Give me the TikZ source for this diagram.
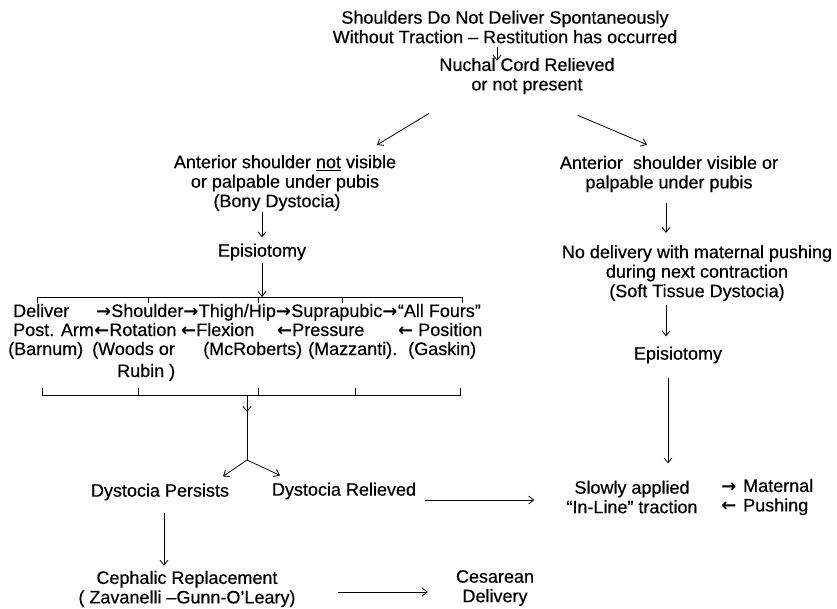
\documentclass[tikz,border=0pt]{standalone}
\usepackage{fontspec}
\setmainfont{Liberation Sans}[UprightFeatures={FakeBold=0.4}]
\newfontfamily\arwfont{DejaVu Sans}
\newcommand{\myra}{{\arwfont\bfseries →}}
\newcommand{\myla}{{\arwfont\bfseries ←}}
\usetikzlibrary{arrows.meta}
\begin{document}
\begin{tikzpicture}[x=1pt,y=-1pt,
  txt/.style={inner sep=0pt, font=\fontsize{18}{19.5}\selectfont, align=center},
  lt/.style={inner sep=0pt, font=\fontsize{18}{19.5}\selectfont, anchor=base west},
  arr/.style={-{Straight Barb[length=5pt,width=8pt]}, line width=0.8pt},
  ln/.style={line width=0.8pt}]
\useasboundingbox (0,0) rectangle (837,609);

% top
\node[txt] (t1) at (505,27) {Shoulders Do Not Deliver Spontaneously\\Without Traction -- Restitution has occurred};
\node[txt] (n1) at (527,76) {Nuchal Cord Relieved\\or not present};
\node[txt] (L1) at (285,183) {Anterior shoulder \underline{not} visible\\or palpable under pubis\\(Bony Dystocia)\hspace*{16pt}};
\node[txt] (R1) at (669,174) {Anterior\ \ shoulder visible or\\palpable under pubis};
\node[txt] (R2) at (697,273) {No delivery with maternal pushing\\during next contraction\\(Soft Tissue Dystocia)};
\node[txt] (epL) at (262,252) {Episiotomy};
\node[txt] (epR) at (678,355) {Episiotomy};

% manoeuvre rows
\node[lt] (r1a) at (13,317) {Deliver};
\node[lt] (r1b) at (96,317) {\myra Shoulder\myra};
\node[lt] (r1c) at (r1b.base east) {Thigh/Hip\myra};
\node[lt] (r1d) at (r1c.base east) {Suprapubic\myra};
\node[lt] (r1e) at (r1d.base east) {“All Fours”};
\node[lt] (r2a) at (13,336) {Post. Arm};
\node[lt] (r2b) at (r2a.base east) {\myla Rotation};
\node[lt] (r2c) at (181,336) {\myla Flexion};
\node[lt] (r2d) at (277,336) {\myla Pressure};
\node[lt] (r2e) at (398,336) {\myla\ Position};
\node[lt] (r3a) at (8,355) {(Barnum)};
\node[lt] (r3b) at (92,355) {(Woods or};
\node[lt] (r3c) at (203,355) {(McRoberts)};
\node[lt] (r3d) at (308,355) {(Mazzanti).};
\node[lt] (r3e) at (408,355) {(Gaskin)};
\node[lt] (r4b) at (117,377) {Rubin )};

% brackets
\coordinate (brT) at (262,297);
\draw[ln] (37,303) -- (37,297) -- (462,297) -- (462,303);
\foreach \x in {148,258,342} \draw[ln] (\x,297) -- (\x,303);
\coordinate (brB) at (247,395);
\coordinate (split) at (247,460);
\draw[ln] (42,388) -- (42,395) -- (460,395) -- (460,388);
\foreach \x in {138,258,355} \draw[ln] (\x,395) -- (\x,388);

% lower nodes
\node[txt] (pers) at (160,492) {Dystocia Persists};
\node[txt] (rel) at (344,491) {Dystocia Relieved};
\node[txt] (slow) at (632,497) {Slowly applied\\“In-Line” traction};
\node[txt] (arrs) at (729,497) {\myra\\\myla};
\node[txt,align=left,anchor=west] (mat) at (743,497) {Maternal\\Pushing};
\node[txt] (ceph) at (187,589) {Cephalic Replacement\\( Zavanelli --Gunn-O'Leary)};
\node[txt] (ces) at (495,588) {Cesarean\\Delivery};

% connectors
\draw[arr] ([xshift=-8pt,yshift=-3pt]t1.south) -- ([xshift=-30pt,yshift=-3pt]n1.north);
\draw[arr] ([xshift=-10pt,yshift=-19pt]n1.south west) -- ([xshift=92pt,yshift=10pt]L1.north);
\draw[arr] ([xshift=-37pt,yshift=-21pt]n1.south east) -- ([xshift=-22pt,yshift=11pt]R1.north);
\draw[arr] ([xshift=-23pt,yshift=-1pt]L1.south) -- ([yshift=6pt]epL.north);
\draw[arr] ([yshift=-2pt]epL.south) -- (brT);
\draw[arr] ([xshift=-3pt,yshift=-11pt]R1.south) -- ([xshift=-31pt,yshift=12pt]R2.north);
\draw[arr] ([xshift=-31pt,yshift=-4pt]R2.south) -- ([xshift=-12pt,yshift=10pt]epR.north);
\draw[arr] ([xshift=-10pt,yshift=-14pt]epR.south) -- ([xshift=36pt,yshift=17pt]slow.north);
\draw[ln] (brB) -- (split);
\draw[arr] (brB) -- ++(0,17);
\draw[arr] (split) -- ([xshift=63pt,yshift=7pt]pers.north);
\draw[arr] (split) -- ([xshift=-64pt,yshift=7pt]rel.north);
\draw[arr] ([xshift=9pt,yshift=-9pt]rel.east) -- ([xshift=-32pt,yshift=-3pt]slow.west);
\draw[arr] ([xshift=4pt,yshift=-12pt]pers.south) -- ([xshift=-23pt,yshift=5pt]ceph.north);
\draw[arr] ([xshift=42pt,yshift=-3pt]ceph.east) -- ([xshift=-28pt,yshift=-4pt]ces.west);
\end{tikzpicture}
\end{document}
